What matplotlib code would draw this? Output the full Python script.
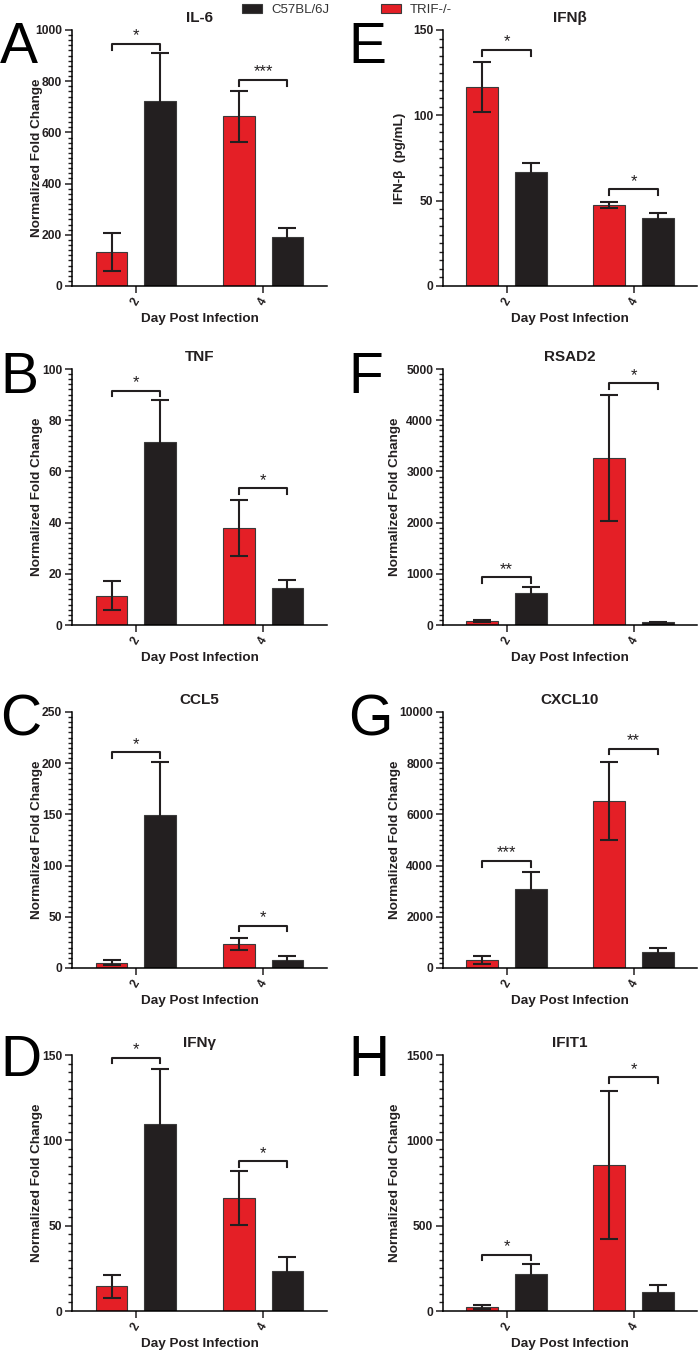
import numpy as np
import matplotlib
matplotlib.use("Agg")
import matplotlib.pyplot as plt
from matplotlib.patches import Patch
from matplotlib.ticker import MultipleLocator, AutoMinorLocator

plt.rcParams["font.family"] = ["Liberation Sans", "DejaVu Sans"]

# --------------------------
# Data
# --------------------------

days = ["2", "4"]

panel_letters = ["A", "B", "C", "D", "E", "F", "G", "H"]

titles = ["IL-6", "TNF", "CCL5", "IFNγ", "IFNβ", "RSAD2", "CXCL10", "IFIT1"]

ylabels = ["Normalized Fold Change"] * 4 + ["IFN-β  (pg/mL)"] + ["Normalized Fold Change"] * 3

y_max = [1000, 100, 250, 150, 150, 5000, 10000, 1500]
y_step = [200, 20, 50, 50, 50, 1000, 2000, 500]

# TRIF-/- (red) and C57BL/6J (black), day 2 and day 4
trif_mean = [[133, 663], [11.5, 38], [5.2, 23.5], [14.4, 66.4],
             [116.6, 47.5], [80, 3270], [300, 6520], [22, 855]]
trif_err = [[75, 100], [5.8, 11], [2.5, 5.7], [6.5, 15.8],
            [14.5, 1.6], [25, 1230], [150, 1530], [13, 435]]

wt_mean = [[724, 191], [71.5, 14.6], [149.5, 8], [109.6, 23.3],
           [67, 39.8], [620, 50], [3100, 640], [214, 109]]
wt_err = [[185, 37], [16.2, 3], [51.3, 4], [32.1, 8.6],
          [5.2, 2.8], [115, 15], [640, 155], [60, 43]]

sig_labels = [["*", "***"], ["*", "*"], ["*", "*"], ["*", "*"],
              ["*", "*"], ["**", "*"], ["***", "**"], ["*", "*"]]
bracket_y = [[945, 805], [91.5, 53.4], [210.6, 41.5], [148.4, 87.7],
             [138.3, 56.6], [932, 4720], [4180, 8566], [329, 1370]]

# --------------------------
# Style
# --------------------------

RED = "#E41F26"
BLACK = "#231F20"
EDGE = "#3a3a3a"

W, H = 700, 1354
col_left = [72, 443]
col_width = [255, 254]
row_top = [30, 369, 712, 1055]
ax_height = 256
letter_x = [0, 348]
letter_base = [63, 393, 735, 1076]
ylabel_px = [-29, -29, -29, -29, -37, -42, -42, -42]

offset = 0.19
bar_w = 0.25

fig = plt.figure(figsize=(W / 100, H / 100), dpi=100)

for i in range(8):

    col = i // 4
    row = i % 4

    ax = fig.add_axes([
        col_left[col] / W,
        1 - (row_top[row] + ax_height) / H,
        col_width[col] / W,
        ax_height / H
    ])

    x = np.arange(len(days))

    # --------------------------
    # Bars + error bars
    # --------------------------

    ax.bar(x - offset, trif_mean[i], bar_w, color=RED,
           edgecolor=EDGE, linewidth=0.8, zorder=2)
    ax.bar(x + offset, wt_mean[i], bar_w, color=BLACK,
           edgecolor=EDGE, linewidth=0.8, zorder=2)

    ax.errorbar(x - offset, trif_mean[i], yerr=trif_err[i], fmt="none",
                ecolor=BLACK, elinewidth=1.5, capsize=6.5, capthick=1.5, zorder=3)
    ax.errorbar(x + offset, wt_mean[i], yerr=wt_err[i], fmt="none",
                ecolor=BLACK, elinewidth=1.5, capsize=6.5, capthick=1.5, zorder=3)

    # --------------------------
    # Significance brackets
    # --------------------------

    leg = 0.022 * y_max[i]

    for j in range(len(days)):

        h = bracket_y[i][j]
        x0 = x[j] - offset
        x1 = x[j] + offset

        ax.plot([x0, x0, x1, x1], [h - leg, h, h, h - leg],
                color=BLACK, linewidth=1.5, clip_on=False, zorder=4)

        ax.text(x[j], h + 0.002 * y_max[i], sig_labels[i][j],
                ha="center", va="bottom", fontsize=12, color=BLACK)

    # --------------------------
    # Axes
    # --------------------------

    ax.set_xlim(-0.5, 1.5)
    ax.set_ylim(0, y_max[i])

    ax.yaxis.set_major_locator(MultipleLocator(y_step[i]))
    ax.yaxis.set_minor_locator(AutoMinorLocator(10))

    ax.set_xticks(x)
    ax.set_xticklabels(days, rotation=60, fontweight="bold",
                       fontsize=8.5, color=BLACK)

    for lab in ax.get_yticklabels():
        lab.set_fontweight("bold")
        lab.set_fontsize(8.7)
        lab.set_color(BLACK)

    ax.spines["top"].set_visible(False)
    ax.spines["right"].set_visible(False)
    ax.spines["left"].set_linewidth(1.1)
    ax.spines["bottom"].set_linewidth(1.1)

    ax.tick_params(axis="both", which="major", direction="out",
                   length=5, width=1.1, pad=2, color=BLACK)
    ax.tick_params(axis="y", which="minor", direction="out",
                   length=3, width=1.0, color=BLACK)

    ax.set_xlabel("Day Post Infection", fontsize=9.7,
                  fontweight="bold", labelpad=4, color=BLACK)
    ax.set_ylabel(ylabels[i], fontsize=9.7,
                  fontweight="bold", color=BLACK)
    ax.yaxis.set_label_coords(ylabel_px[i] / col_width[col], 0.5)

    ax.set_title(titles[i], fontsize=11, fontweight="bold",
                 pad=6, color=BLACK)

    fig.text(letter_x[col] / W, 1 - letter_base[row] / H,
             panel_letters[i], fontsize=41, va="baseline",
             ha="left", color="black")

# --------------------------
# Legend
# --------------------------

handles = [
    Patch(facecolor=BLACK, edgecolor=EDGE, linewidth=0.8),
    Patch(facecolor=RED, edgecolor=EDGE, linewidth=0.8),
]

fig.legend(handles, ["C57BL/6J", "TRIF-/-"],
           loc="upper center", bbox_to_anchor=(0.496, 1.006),
           ncol=2, frameon=False, fontsize=9.5,
           handlelength=1.5, handleheight=0.75,
           handletextpad=0.7, columnspacing=3.9,
           labelcolor="#333333")

fig.savefig("out.png", dpi=100)
